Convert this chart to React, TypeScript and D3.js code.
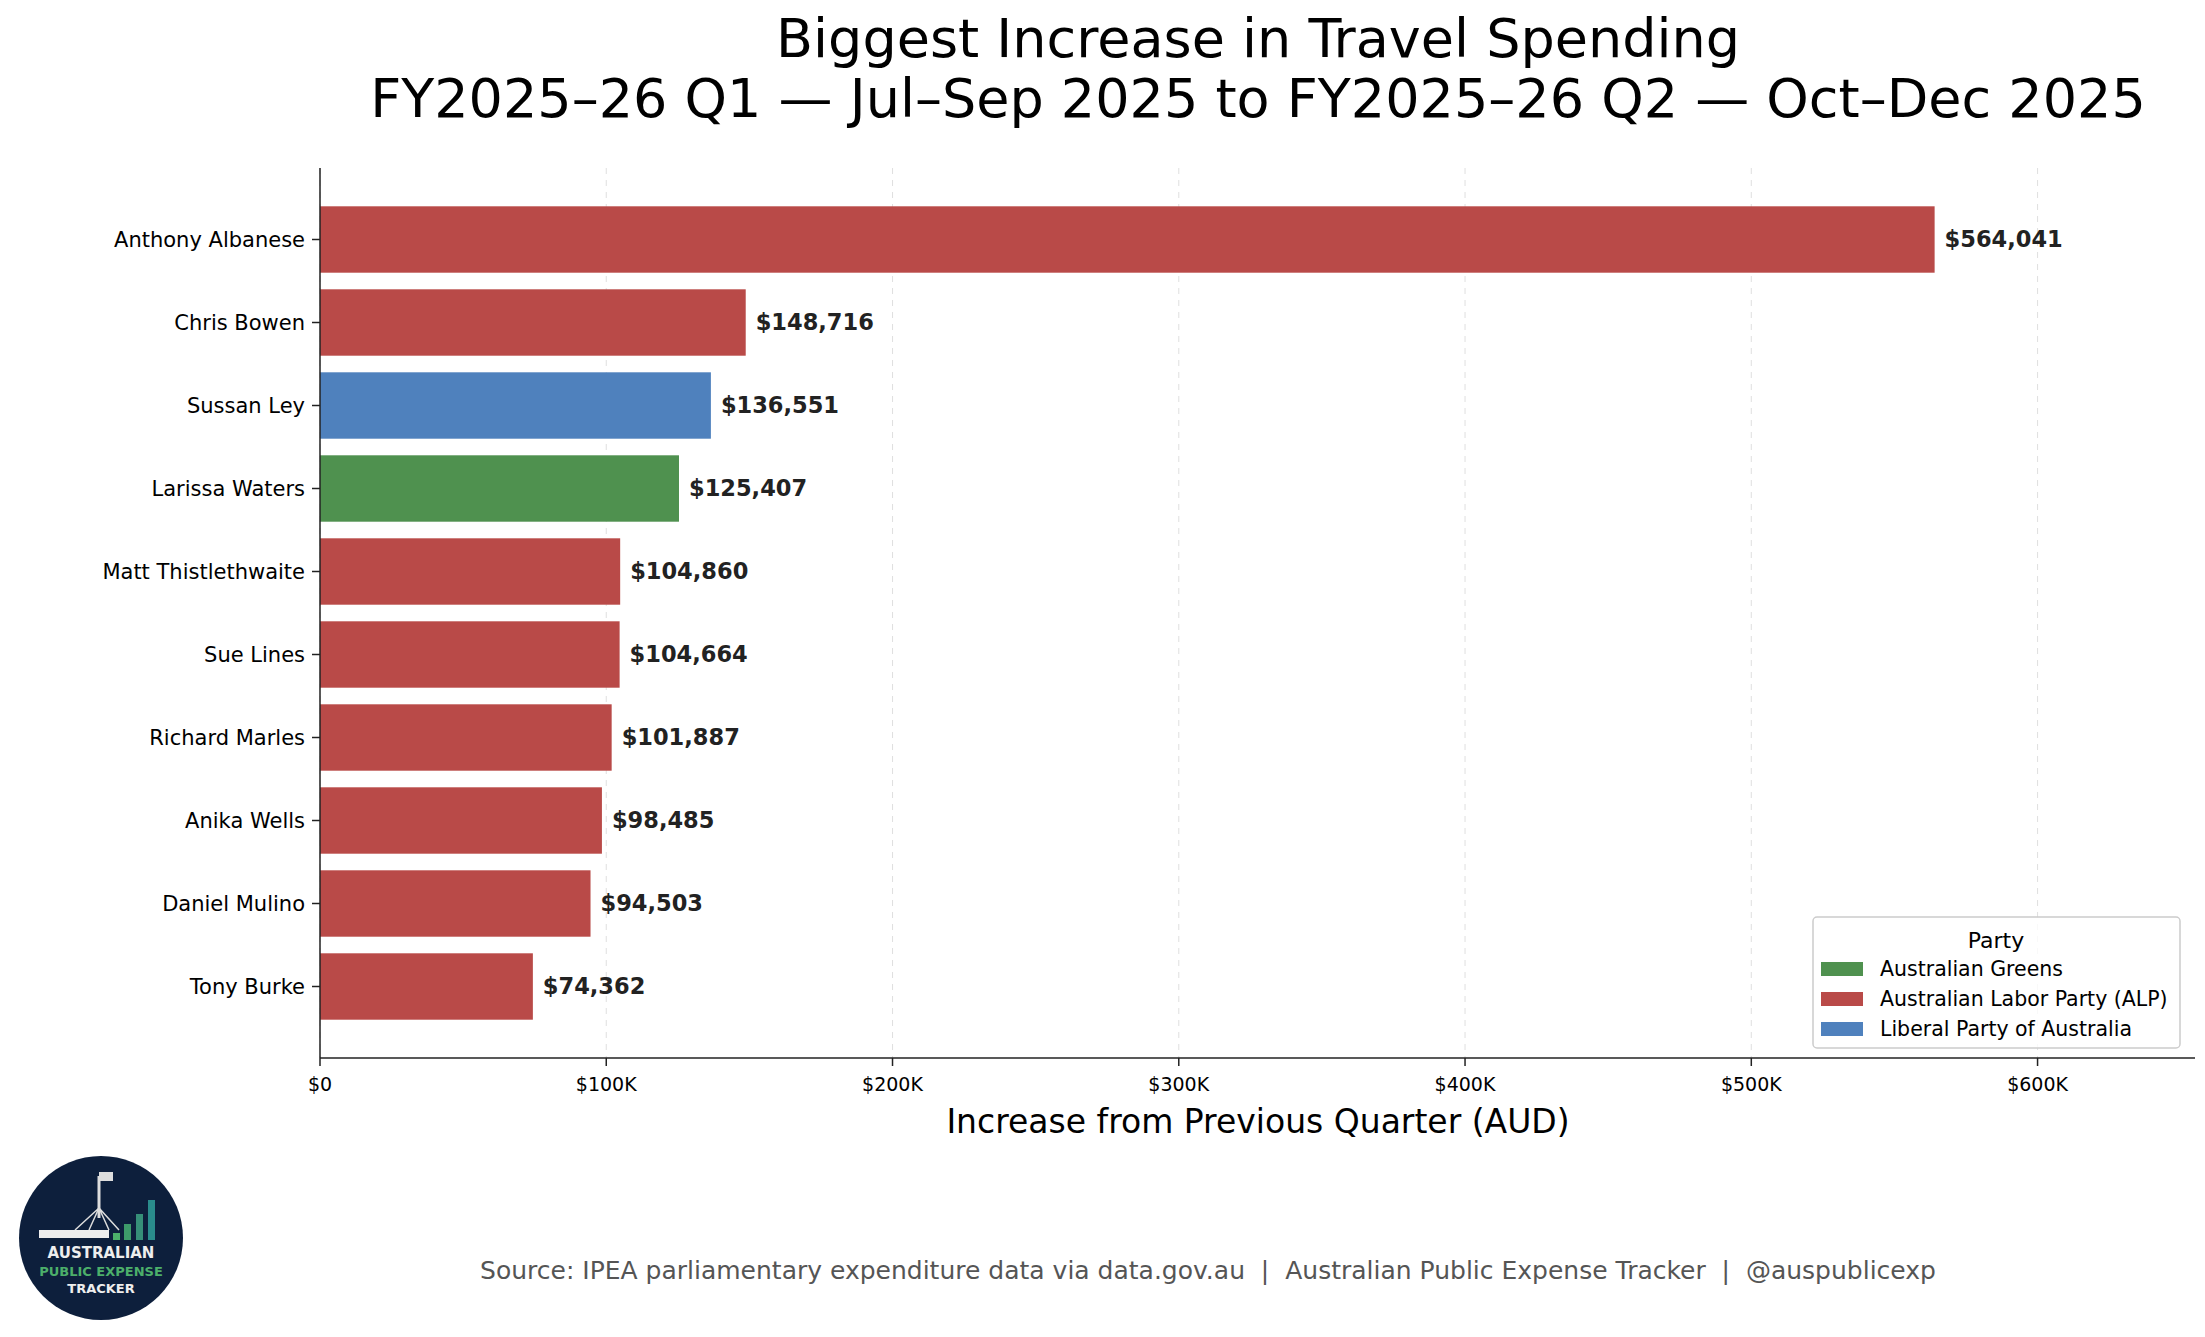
import * as d3 from "d3";

const names = ["Anthony Albanese", "Chris Bowen", "Sussan Ley", "Larissa Waters", "Matt Thistlethwaite", "Sue Lines", "Richard Marles", "Anika Wells", "Daniel Mulino", "Tony Burke"];
const values = [564041, 148716, 136551, 125407, 104860, 104664, 101887, 98485, 94503, 74362];
const parties = ["ALP", "ALP", "LIB", "GRN", "ALP", "ALP", "ALP", "ALP", "ALP", "ALP"];
const legendKeys = ["GRN", "ALP", "LIB"];
const legendLabels = ["Australian Greens", "Australian Labor Party (ALP)", "Liberal Party of Australia"];
const ticks = [0, 100000, 200000, 300000, 400000, 500000, 600000];

const partyColor: Record<string, string> = { ALP: "#b94a48", LIB: "#4f81bd", GRN: "#4f914f" };

const W = 2205, H = 1337;
const left = 320, right = 2195, top = 168, bottom = 1058;
const font = "DejaVu Sans, sans-serif";

export default function App() {
  const x = d3.scaleLinear().domain([0, 655000]).range([left, right]);
  const y = d3.scaleBand().domain(names).range([top + 30, bottom - 30]).paddingInner(0.2).paddingOuter(0.1);
  const fmt = d3.format(",");
  const lx = 1813, ly = 917;
  return (
    <svg width={W} height={H} style={{ position: "absolute", left: 0, top: 0 }} fontFamily={font}>
      <rect width={W} height={H} fill="#fff" />
      <text x={1258} y={57} fontSize={54} textAnchor="middle">Biggest Increase in Travel Spending</text>
      <text x={1258} y={117} fontSize={54} textAnchor="middle">FY2025–26 Q1 — Jul–Sep 2025 to FY2025–26 Q2 — Oct–Dec 2025</text>
      {ticks.map((t) => (
        <g key={t}>
          <line x1={x(t)} x2={x(t)} y1={top} y2={bottom} stroke="#ccc" strokeDasharray="6,6" strokeWidth={1} opacity={0.6} />
          <line x1={x(t)} x2={x(t)} y1={bottom} y2={bottom + 8} stroke="#222" strokeWidth={1.5} />
          <text x={x(t)} y={bottom + 33} fontSize={19} textAnchor="middle">{t === 0 ? "$0" : `$${t / 1000}K`}</text>
        </g>
      ))}
      {names.map((n, i) => (
        <g key={n}>
          <rect x={x(0)} y={y(n)} width={x(values[i]) - x(0)} height={y.bandwidth()} fill={partyColor[parties[i]]} />
          <text x={x(values[i]) + 10} y={y(n)! + y.bandwidth() / 2} dy="0.35em" fontSize={22.5} fontWeight="bold" fill="#222">${fmt(values[i])}</text>
          <line x1={left - 8} x2={left} y1={y(n)! + y.bandwidth() / 2} y2={y(n)! + y.bandwidth() / 2} stroke="#222" strokeWidth={1.5} />
          <text x={left - 15} y={y(n)! + y.bandwidth() / 2} dy="0.35em" fontSize={21} textAnchor="end">{n}</text>
        </g>
      ))}
      <line x1={left} x2={left} y1={top} y2={bottom} stroke="#222" strokeWidth={1.5} />
      <line x1={left} x2={right} y1={bottom} y2={bottom} stroke="#222" strokeWidth={1.5} />
      <text x={1258} y={1133} fontSize={33} textAnchor="middle">Increase from Previous Quarter (AUD)</text>
      <rect x={lx} y={ly} width={367} height={131} rx={4} fill="#fff" fillOpacity={0.8} stroke="#ccc" strokeWidth={1.5} />
      <text x={lx + 183} y={ly + 31} fontSize={22} textAnchor="middle">Party</text>
      {legendKeys.map((k, i) => (
        <g key={k}>
          <rect x={lx + 8} y={ly + 45 + i * 30} width={42} height={14} fill={partyColor[k]} />
          <text x={lx + 67} y={ly + 52 + i * 30} dy="0.35em" fontSize={20.5}>{legendLabels[i]}</text>
        </g>
      ))}
      <text x={1208} y={1279} fontSize={25} fill="#555" textAnchor="middle" style={{ whiteSpace: "pre" }}>Source: IPEA parliamentary expenditure data via data.gov.au  |  Australian Public Expense Tracker  |  @auspublicexp</text>
      <g transform="translate(101,1238)">
        <circle r={82} fill="#0d1f3c" />
        <line x1={-2} x2={-2} y1={-62} y2={-20} stroke="#ddd" strokeWidth={3} />
        <rect x={-2} y={-66} width={14} height={9} fill="#ddd" />
        <path d="M-2,-30 L-26,-8 M-2,-30 L-12,-8 M-2,-30 L8,-8 M-2,-30 L18,-8" stroke="#ddd" strokeWidth={1.5} />
        <rect x={-62} y={-8} width={70} height={8} fill="#eee" />
        <rect x={12} y={-5} width={7} height={7} fill="#4caf6a" />
        <rect x={23} y={-14} width={7} height={16} fill="#3d9a6a" />
        <rect x={35} y={-24} width={7} height={26} fill="#368f78" />
        <rect x={47} y={-38} width={7} height={40} fill="#2a8c8c" />
        <text y={20} fontSize={15} fontWeight="bold" fill="#eee" textAnchor="middle">AUSTRALIAN</text>
        <text y={38} fontSize={13} fontWeight="bold" fill="#4caf6a" textAnchor="middle">PUBLIC EXPENSE</text>
        <text y={55} fontSize={13} fontWeight="bold" fill="#eee" textAnchor="middle">TRACKER</text>
      </g>
    </svg>
  );
}
